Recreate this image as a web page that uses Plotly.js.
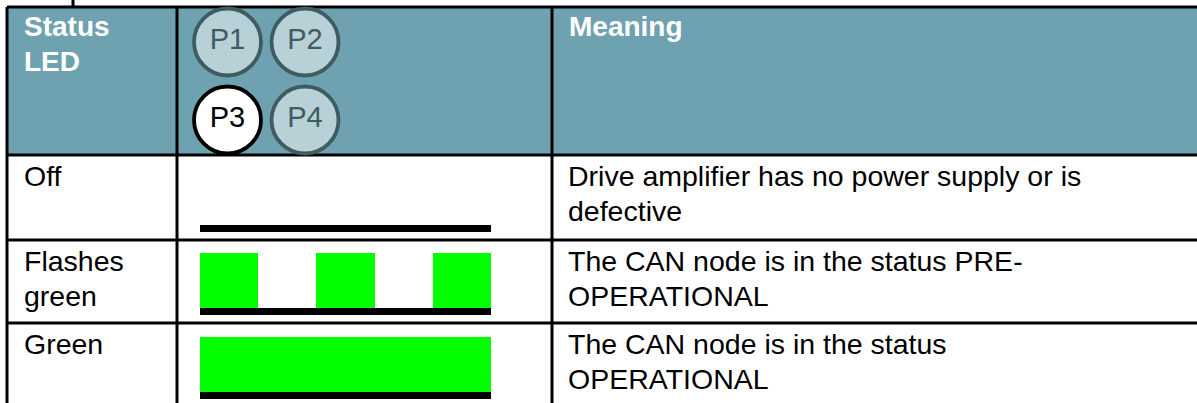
<!DOCTYPE html>
<html>
<head>
<meta charset="utf-8">
<script src="https://cdn.plot.ly/plotly-3.0.1.min.js"></script>
<style>html,body{margin:0;padding:0;background:#fff;overflow:hidden}#chart{width:1197px;height:403px}</style>
</head>
<body>
<div id="chart"></div>
<script>
// ---- data ----
const headerLabels = ["Status<br>LED", "", "Meaning"];
const ledNames = ["P1", "P2", "P3", "P4"];
const ledLit = [0, 0, 1, 0];
const statusLabels = ["Off", "Flashes<br>green", "Green"];
const meaningLabels = [
  "Drive amplifier has no power supply or is<br>defective",
  "The CAN node is in the status PRE-<br>OPERATIONAL",
  "The CAN node is in the status<br>OPERATIONAL"
];
const ledPatterns = [
  [0, 0, 0, 0, 0],
  [1, 0, 1, 0, 1],
  [1, 1, 1, 1, 1]
];

// ---- layout constants ----
const W = 1197, H = 403;
const colEdges = [7, 177, 552, 1205];
const rowEdges = [7, 155, 240, 323, 407];
const teal = "#6fa2b0";
const font = "Liberation Sans, Arial, sans-serif";
const FS = 28.5;
const LINE = 35;

const traces = [];

// header background
traces.push({
  type: "scatter", mode: "lines", hoverinfo: "skip", showlegend: false,
  x: [colEdges[0], colEdges[3], colEdges[3], colEdges[0], colEdges[0]],
  y: [rowEdges[0], rowEdges[0], rowEdges[1], rowEdges[1], rowEdges[0]],
  fill: "toself", fillcolor: teal, line: {width: 0}
});

// grid lines
const gx = [], gy = [];
rowEdges.forEach(r => { gx.push(colEdges[0], colEdges[3], null); gy.push(r, r, null); });
colEdges.forEach(c => { gx.push(c, c, null); gy.push(rowEdges[0], rowEdges[rowEdges.length - 1], null); });
gx.push(73, 73, null); gy.push(0, rowEdges[0], null);
traces.push({
  type: "scatter", mode: "lines", hoverinfo: "skip", showlegend: false,
  x: gx, y: gy, line: {color: "#000", width: 3}
});

// LED circles
const cx = ledNames.map((_, i) => colEdges[1] + 50.5 + (i % 2) * 77.5);
const cy = ledNames.map((_, i) => 42 + Math.floor(i / 2) * 78);
traces.push({
  type: "scatter", mode: "markers+text", hoverinfo: "skip", showlegend: false,
  x: cx, y: cy, text: ledNames, textposition: "middle center",
  textfont: {family: font, size: 29, color: ledLit.map(l => l ? "#000" : "#3e5c61")},
  marker: {
    size: 67,
    color: ledLit.map(l => l ? "#ffffff" : "#b7d1d6"),
    line: {width: 3.8, color: ledLit.map(l => l ? "#000" : "#3e5c61")}
  }
});

// LED patterns
const barX0 = 200, barW = 291, segN = 5, seg = barW / segN;
const gxs = [], gws = [], gbs = [], gys = [];
const kxs = [], kws = [], kbs = [], kys = [];
ledPatterns.forEach((p, r) => {
  const bottom = rowEdges[r + 2] - 8.5;
  const lineTop = bottom - 7;
  p.forEach((v, i) => {
    if (v) {
      gxs.push(barX0 + seg * (i + 0.5)); gws.push(seg + 0.4);
      gbs.push(lineTop - 55); gys.push(55);
    }
  });
  kxs.push(barX0 + barW / 2); kws.push(barW); kbs.push(lineTop); kys.push(7);
});
traces.push({
  type: "bar", hoverinfo: "skip", showlegend: false,
  x: gxs, y: gys, base: gbs, width: gws,
  marker: {color: "#00ff00", line: {width: 0}}
});
traces.push({
  type: "bar", hoverinfo: "skip", showlegend: false,
  x: kxs, y: kys, base: kbs, width: kws,
  marker: {color: "#000000", line: {width: 0}}
});

// text: one annotation per line so the line pitch matches the table
const annotations = [];
function addCell(text, x, yTop, f) {
  text.split("<br>").forEach((line, i) => {
    annotations.push({
      xref: "x", yref: "y", x: x, y: yTop + i * LINE,
      xanchor: "left", yanchor: "top", align: "left", showarrow: false,
      text: line, font: f
    });
  });
}
headerLabels.forEach((t, c) => {
  if (!t) return;
  addCell("<b>" + t.split("<br>").join("</b><br><b>") + "</b>", colEdges[c] + 15, rowEdges[0] + 2,
    {family: font, size: 28, color: "#ffffff"});
});
statusLabels.forEach((t, r) => {
  addCell(t, colEdges[0] + 15, rowEdges[r + 1] + 2.5, {family: font, size: FS, color: "#000000"});
});
meaningLabels.forEach((t, r) => {
  addCell(t, colEdges[2] + 14, rowEdges[r + 1] + 2.5, {family: font, size: FS, color: "#000000"});
});

const layout = {
  width: W, height: H,
  margin: {l: 0, r: 0, t: 0, b: 0, pad: 0},
  paper_bgcolor: "#ffffff", plot_bgcolor: "#ffffff",
  barmode: "overlay", bargap: 0,
  showlegend: false,
  xaxis: {range: [0, W], visible: false, fixedrange: true},
  yaxis: {range: [H, 0], visible: false, fixedrange: true},
  annotations: annotations
};

Plotly.newPlot("chart", traces, layout, {displayModeBar: false, staticPlot: true});
</script>
</body>
</html>
